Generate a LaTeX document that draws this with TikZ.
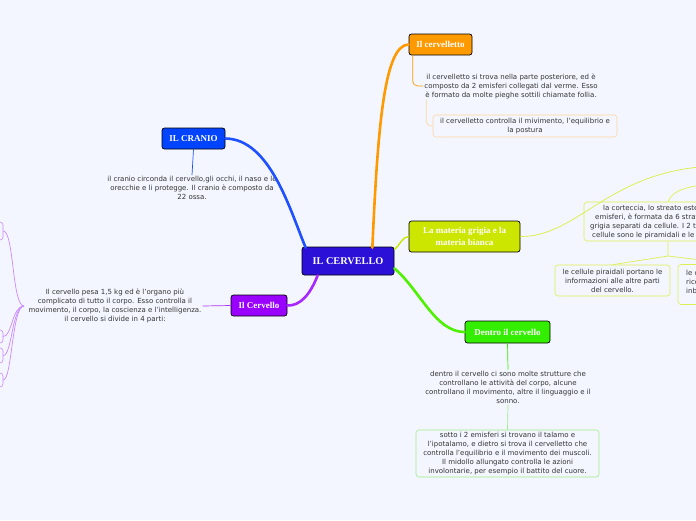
\documentclass[tikz,border=0pt]{standalone}
\usepackage{fontspec}
\setmainfont{DejaVu Sans}
\newfontfamily\ttlfont{Liberation Serif}
\usetikzlibrary{calc}
\definecolor{bg}{RGB}{243,246,254}
\definecolor{txtc}{RGB}{51,51,51}
\definecolor{mainc}{RGB}{43,16,216}
\definecolor{orangec}{RGB}{255,153,0}
\definecolor{bluec}{RGB}{0,68,255}
\definecolor{bluel}{RGB}{30,80,255}
\definecolor{purplec}{RGB}{153,0,255}
\definecolor{purplel}{RGB}{204,136,255}
\definecolor{yellowc}{RGB}{204,230,0}
\definecolor{yellowl}{RGB}{221,240,80}
\definecolor{greenc}{RGB}{51,238,0}
\definecolor{greenl}{RGB}{160,236,140}
\definecolor{orangel}{RGB}{255,214,160}
\begin{document}
\begin{tikzpicture}[x=1pt,y=-1pt,
  topic/.style={draw=black, line width=0.7pt, rounded corners=2.5pt, text=white,
    font=\ttlfont\bfseries\fontsize{9}{11.3}\selectfont, align=center, inner sep=0pt},
  txt/.style={text=txtc, font=\fontsize{7}{9}\selectfont, align=center, inner sep=1pt},
  sub/.style={txt, rounded corners=3pt, line width=0.6pt},
  thick1/.style={line width=2.6pt, line cap=round},
  thin1/.style={line width=0.7pt}]
\path[use as bounding box, fill=bg] (0,0) rectangle (696,520);
\clip (0,0) rectangle (696,520);

% main topics
\node[topic, fill=mainc, minimum width=92pt, minimum height=28pt,
  font=\ttlfont\bfseries\fontsize{10.3}{12}\selectfont] (main) at (348,261) {IL CERVELLO};
\node[topic, fill=orangec, minimum width=63pt, minimum height=21pt] (cerv) at (440.5,44.5) {Il cervelletto};
\node[topic, fill=bluec, minimum width=63pt, minimum height=21pt] (cranio) at (193.5,138.5) {IL CRANIO};
\node[topic, fill=purplec, minimum width=56pt, minimum height=21pt] (cervello) at (259,305.5) {Il Cervello};
\node[topic, fill=yellowc, minimum width=111pt, minimum height=31pt] (materia) at (464.5,236.5) {La materia grigia e la\\materia bianca};
\node[topic, fill=greenc, minimum width=85pt, minimum height=22pt] (dentro) at (507.5,332) {Dentro il cervello};

% texts
\node[txt] (cervtxt) at (511,86) {il cervelletto si trova nella parte posteriore, ed è\\composto da 2 emisferi collegati dal verme. Esso\\è formato da molte pieghe sottili chiamate follia.};
\node[sub, draw=orangel, minimum width=184pt, minimum height=22pt] (cerv2) at (525,126) {il cervelletto controlla il mivimento, l'equilibrio e\\la postura};
\node[txt] (crtxt) at (192,188) {il cranio circonda il cervello,gli occhi, il naso e le\\orecchie e li protegge. Il cranio è composto da\\22 ossa.};
\node[txt] (cvtxt) at (115,306) {Il cervello pesa 1,5 kg ed è l'organo più\\complicato di tutto il corpo. Esso controlla il\\movimento, il corpo, la coscienza e l'intelligenza.\\il cervello si divide in 4 parti:};
\node[txt] (dtxt) at (508,387) {dentro il cervello ci sono molte strutture che\\controllano le attività del corpo, alcune\\controllano il movimento, altre il linguaggio e il\\sonno.};
\node[sub, draw=greenl, minimum width=183pt, minimum height=47pt] (dbox) at (507.5,453.5) {sotto i 2 emisferi si trovano il talamo e\\l'ipotalamo, e dietro si trova il cervelletto che\\controlla l'equilibrio e il movimento dei muscoli.\\Il midollo allungato controlla le azioni\\involontarie, per esempio il battito del cuore.};

% cortex box (partly outside the frame)
\node[sub, draw=yellowl, minimum width=166pt, minimum height=39pt] (cortex) at (667,221.5) {};
\node[txt, align=left, anchor=west] (cortextxt) at (589,222.5) {\hspace*{13pt}la corteccia, lo streato esterno degli\\\hspace*{5pt}emisferi, è formata da 6 strati di materia\\grigia separati da cellule. I 2 tipi principali di\\\hspace*{2pt}cellule sono le piramidali e le non piramidali.};
\node[sub, draw=yellowl, minimum width=115pt, minimum height=31pt] (lchild) at (612.5,280.5) {le cellule piraidali portano le\\informazioni alle altre parti\\del cervello.};
\node[sub, draw=yellowl, minimum width=116pt, minimum height=40pt] (rchild) at (736,284.5) {};
\node[txt, align=left, anchor=west] (rchildtxt) at (685,283) {le cellule non piramidali\\ricevono le informazioni\\inbiate dagli organi di senso.};

% left clipped boxes
\node[sub, draw=purplel, minimum width=86pt, minimum height=18pt] (p1) at (-40,231) {};
\node[sub, draw=purplel, minimum width=86pt, minimum height=13pt] (p2) at (-40,336.5) {};
\node[sub, draw=purplel, minimum width=86pt, minimum height=15pt] (p3) at (-40,355.5) {};
\node[sub, draw=purplel, minimum width=86pt, minimum height=14pt] (p4) at (-40,380) {};
\coordinate (hub) at (24,306);
\coordinate (offA) at (720,166);
\coordinate (offB) at (730,183);
\coordinate (split) at (668,256);

% thick connectors
\draw[thick1, bluel] ($(main.north west)+(4,1)$) .. controls (290,210) and (270,139) .. (cranio.east);
\draw[thick1, orangec] ($(main.north east)+(-22,1)$) .. controls (378,120) and (385,45) .. (cerv.west);
\draw[thick1, purplec!85!white] ($(main.south west)+(16,0)$) .. controls (310,295) and (300,306) .. (cervello.east);
\draw[thick1, greenc!80!lime] ($(main.south east)+(0,-7)$) .. controls (420,290) and (435,332) .. (dentro.west);
\draw[line width=1.4pt, yellowc] ($(main.north east)+(0,3)$) .. controls (400,245) and (402,237) .. (materia.west);

% thin connectors
\draw[thin1, orangec, rounded corners=5pt] ($(cerv.south west)+(4,0)$) |- (cervtxt.west);
\draw[thin1, orangel, rounded corners=5pt] ($(cervtxt.south west)+(3,0)$) |- (cerv2.west);
\draw[thin1, bluel] (cranio.south) -- (crtxt.north);
\draw[thin1, purplec!80!white] (cervello.west) -- (cvtxt.east);
\draw[thin1, greenc] (dentro.south) -- (dtxt.north);
\draw[thin1, greenl] (dtxt.south) -- (dbox.north);
\draw[thin1, yellowl!80!yellowc] (materia.east) .. controls (580,237) and (610,167) .. (offA);
\draw[thin1, yellowl] ($(cortex.north)+(1,0)$) .. controls (672,190) and (690,184) .. (offB);
\draw[thin1, yellowl] ($(cortex.south)+(1,0)$) -- (split) -- (lchild.north);
\draw[thin1, yellowl] (split) -- (rchild.north);
\foreach \p in {p2,p3,p4}
  \draw[thin1, purplel] (hub) .. controls (12,306) and (12,0 |- \p.east) .. (\p.east);
\draw[thin1, purplel] (hub) .. controls (12,306) and (14,231) .. (p1.east);
\end{tikzpicture}
\end{document}
